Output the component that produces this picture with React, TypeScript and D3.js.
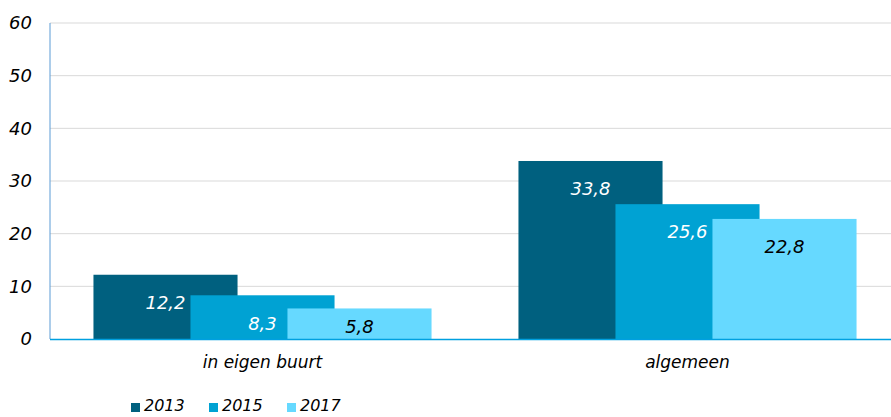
import * as d3 from "d3";

const categories = ["in eigen buurt", "algemeen"];
const years = ["2013", "2015", "2017"];
const values2013 = [12.2, 33.8];
const values2015 = [8.3, 25.6];
const values2017 = [5.8, 22.8];
const yTicks = [0, 10, 20, 30, 40, 50, 60];

const seriesValues = [values2013, values2015, values2017];
const colors = ["#00607f", "#00a2d3", "#66d9ff"];
const labelColors = ["#ffffff", "#ffffff", "#000000"];

const width = 891;
const height = 417;
const margin = { top: 23, right: -9, bottom: 78, left: 50 };
const font = "'DejaVu Sans', Verdana, sans-serif";

function fmt(v: number) {
  return v.toFixed(1).replace(".", ",");
}

export default function App() {
  const x = d3
    .scaleBand<string>()
    .domain(categories)
    .range([margin.left, width - margin.right]);
  const y = d3
    .scaleLinear()
    .domain([0, 60])
    .range([height - margin.bottom, margin.top]);
  // bars overlap: centre offsets relative to the category centre
  const offset = d3.scalePoint<string>().domain(years).range([-97, 97]);
  const barW = x.bandwidth() * 0.339;
  const y0 = y(0);

  return (
    <svg
      width={width}
      height={height}
      style={{ position: "absolute", left: 0, top: 0, display: "block" }}
      fontFamily={font}
    >
      {yTicks.map((t) => (
        <g key={t}>
          {t > 0 && (
            <line x1={margin.left} x2={width} y1={y(t)} y2={y(t)} stroke="#d9d9d9" strokeWidth={1} />
          )}
          <text
            x={32}
            y={y(t)}
            dy="0.35em"
            textAnchor="end"
            fontSize={18}
            fontStyle="italic"
            fill="#000"
          >
            {t}
          </text>
        </g>
      ))}

      {categories.map((cat, ci) => {
        const cx = (x(cat) ?? 0) + x.bandwidth() / 2;
        return (
          <g key={cat}>
            {years.map((yr, si) => {
              const v = seriesValues[si][ci];
              const bx = cx + (offset(yr) ?? 0) - barW / 2;
              return (
                <rect key={yr} x={bx} y={y(v)} width={barW} height={y0 - y(v)} fill={colors[si]} />
              );
            })}
            {years.map((yr, si) => {
              const v = seriesValues[si][ci];
              const lx = cx + (offset(yr) ?? 0);
              const ly = Math.min(y(v) + 28, y0 - 12);
              return (
                <text
                  key={yr}
                  x={lx}
                  y={ly}
                  dy="0.35em"
                  textAnchor="middle"
                  fontSize={18}
                  fontStyle="italic"
                  fill={labelColors[si]}
                >
                  {fmt(v)}
                </text>
              );
            })}
            <text
              x={cx}
              y={362}
              dy="0.35em"
              textAnchor="middle"
              fontSize={17}
              fontStyle="italic"
              fill="#000"
            >
              {cat}
            </text>
          </g>
        );
      })}

      <line x1={margin.left} x2={margin.left} y1={margin.top} y2={y0} stroke="#5b9bd5" strokeWidth={1} />
      <line x1={margin.left} x2={width} y1={y0 + 0.5} y2={y0 + 0.5} stroke="#00a0e0" strokeWidth={1.5} />

      {years.map((yr, i) => {
        const lx = 131 + i * 78;
        return (
          <g key={yr}>
            <rect x={lx} y={403} width={9} height={9} fill={colors[i]} />
            <text x={lx + 13} y={411} fontSize={16} fontStyle="italic" fill="#000">
              {yr}
            </text>
          </g>
        );
      })}
    </svg>
  );
}
